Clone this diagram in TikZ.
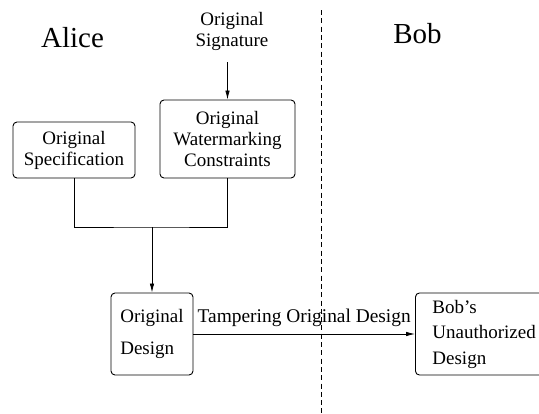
\documentclass[tikz,border=0pt]{standalone}
\usepackage{fontspec}
\setmainfont{Liberation Serif}
\usetikzlibrary{arrows.meta}

\begin{document}
\begin{tikzpicture}
  [x=1pt,y=-1pt,line width=0.8pt,every node/.style={inner sep=0pt},
   box/.style={draw,rounded corners=4pt,line width=0.9pt,font=\fontsize{19}{21}\selectfont},
   txt/.style={font=\fontsize{19}{21}\selectfont,align=center},
   party/.style={font=\fontsize{29}{32}\selectfont},
   >={Latex[length=9pt,width=4.5pt]}]
  \useasboundingbox (0,0) rectangle (539,413);
  \node[party,anchor=base] (alice) at (72.5,47) {Alice};
  \node[party,anchor=base] (bob) at (417.5,43) {Bob};
  \node[txt] (sig) at (232,31) {Original\\Signature};
  \node[box,align=center,minimum width=122pt,minimum height=56pt] (spec) at (74,150) {Original\\Specification};
  \node[box,align=center,minimum width=135pt,minimum height=78pt] (wm) at (227.5,139) {Original\\Watermarking\\Constraints};
  \node[box,align=left,minimum width=82pt,minimum height=82pt,font=\fontsize{19}{32}\selectfont] (dsg) at (152,334) {Original\\Design};
  \node[box,anchor=west,align=left,text width=120pt,inner xsep=17pt,minimum height=82pt,font=\fontsize{19}{25.5}\selectfont] (bobd) at (415,334) {Bob's\\Unauthorized\\Design};
  \coordinate (sigout) at (227.5,62);
  \coordinate (join) at (152,227);
  \coordinate (top) at (321,10);
  \coordinate (bottom) at (321,413);
  \draw (spec) |- (join) -| (wm);
  \foreach \from/\to in {sigout/wm,join/dsg}
    \draw[->] (\from) -- (\to);
  \draw[->] (dsg) -- node[txt,above=7pt,font=\fontsize{19.4}{21}\selectfont] {Tampering Original Design} (bobd);
  \draw[line width=0.85pt,dash pattern=on 5pt off 3.3pt] (top) -- (bottom);
\end{tikzpicture}
\end{document}
